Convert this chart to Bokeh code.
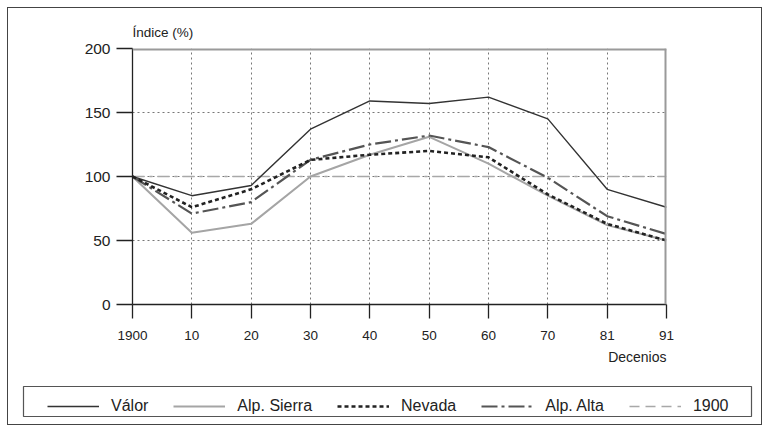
from bokeh.plotting import figure
from bokeh.layouts import column
from bokeh.models import (Range1d, FixedTicker, Legend, LegendItem, Title, Span)
from bokeh.embed import file_html
from bokeh.resources import INLINE

# ---- data ----
decades = ["1900", "10", "20", "30", "40", "50", "60", "70", "81", "91"]
x_pos = [0, 1, 2, 3, 4, 5, 6, 7, 8, 9]
valor = [100, 85, 93, 137, 159, 157, 162, 145, 90, 76]
alp_sierra = [100, 56, 63, 100, 117, 131, 110, 85, 62, 50]
nevada = [100, 76, 90, 113, 117, 120, 115, 86, 63, 50]
alp_alta = [100, 71, 80, 113, 125, 132, 123, 99, 69, 55]
ref_1900 = [100, 100, 100, 100, 100, 100, 100, 100, 100, 100]
y_ticks = [0, 50, 100, 150, 200]
grid_x = [1, 2, 3, 4, 5, 6, 7, 8]
grid_y = [50, 100, 150]
series_names = ["Válor", "Alp. Sierra", "Nevada", "Alp. Alta", "1900"]
series_values = [valor, alp_sierra, nevada, alp_alta, ref_1900]

AX = "#222222"
FONT = "Liberation Sans"
STYLES = {
    "Válor": dict(line_color="#333333", line_width=1.4),
    "Alp. Sierra": dict(line_color="#a5a5a5", line_width=2),
    "Nevada": dict(line_color="#222222", line_width=2.6, line_dash="4 3"),
    "Alp. Alta": dict(line_color="#555555", line_width=2.2, line_dash="16 4 3 4"),
    "1900": dict(line_color="#a8a8a8", line_width=1.6, line_dash="10 6"),
}

W, H1, H2 = 769, 380, 52
p = figure(width=W, height=H1, output_backend="svg", toolbar_location=None,
           x_range=Range1d(0, 9), y_range=Range1d(0, 200),
           min_border_left=132, min_border_right=W - 666,
           min_border_top=48, min_border_bottom=H1 - 304,
           title="Índice (%)")
p.frame_align = False
p.background_fill_color = "white"
p.border_fill_color = None
p.outline_line_color = None

# axes
p.xaxis.ticker = FixedTicker(ticks=x_pos)
p.xaxis.major_label_overrides = {i: s for i, s in zip(x_pos, decades)}
p.yaxis.ticker = FixedTicker(ticks=y_ticks)
for ax in (p.xaxis[0], p.yaxis[0]):
    ax.axis_line_color = AX
    ax.axis_line_width = 1.3
    ax.major_tick_line_color = AX
    ax.major_tick_line_width = 1.3
    ax.major_tick_in = 0
    ax.minor_tick_line_color = None
    ax.major_label_text_color = AX
    ax.major_label_text_font = FONT
p.yaxis.major_tick_out = 16
p.yaxis.major_label_standoff = 6
p.yaxis.major_label_text_font_size = "15.5px"
p.xaxis.major_tick_out = 14
p.xaxis.major_label_standoff = 12
p.xaxis.major_label_text_font_size = "13.5px"

p.title.align = "left"
p.title.text_font = FONT
p.title.text_font_size = "13.5px"
p.title.text_font_style = "normal"
p.title.text_color = AX
p.title.standoff = 17

# thick gray frame edges (top and right)
p.add_layout(Span(location=200, dimension="width", line_color="#9a9a9a", line_width=4))
p.add_layout(Span(location=9, dimension="height", line_color="#9a9a9a", line_width=4))

# grid
p.xgrid.ticker = FixedTicker(ticks=grid_x)
p.ygrid.ticker = FixedTicker(ticks=grid_y)
for g in (p.xgrid[0], p.ygrid[0]):
    g.grid_line_color = "#777777"
    g.grid_line_dash = "2 3"
    g.grid_line_width = 1

# series (drawing order: light first)
p.line(x_pos, ref_1900, line_dash="12 5 3 5", line_color="#a8a8a8", line_width=1.6)
p.line(x_pos, alp_sierra, **STYLES["Alp. Sierra"])
p.line(x_pos, valor, **STYLES["Válor"])
p.line(x_pos, alp_alta, **STYLES["Alp. Alta"])
p.line(x_pos, nevada, **STYLES["Nevada"])

# x-axis caption, right aligned
dec = Title(text="Decenios", align="right", text_font=FONT, text_font_size="14px",
            text_font_style="normal", text_color=AX, standoff=8)
p.add_layout(dec, "below")

# legend strip (own small figure, its frame = legend box)
q = figure(width=W, height=H2, output_backend="svg", toolbar_location=None,
           x_range=Range1d(0, 9), y_range=Range1d(0, 200),
           x_axis_location=None, y_axis_location=None,
           min_border_left=23, min_border_right=W - 751,
           min_border_top=6, min_border_bottom=H2 - 36)
q.frame_align = False
q.grid.visible = False
q.outline_line_color = "#555555"
q.outline_line_width = 1.2
q.background_fill_color = "white"
q.border_fill_color = None
items = []
for name, vals in zip(series_names, series_values):
    r = q.line(x_pos, vals, visible=False, **STYLES[name])
    items.append(LegendItem(label=name, renderers=[r]))
legend = Legend(items=items, orientation="horizontal", location=(24, 0),
                glyph_width=52, glyph_height=20, label_height=20,
                label_standoff=12, spacing=25, padding=5,
                border_line_color=None, background_fill_alpha=0,
                inactive_fill_alpha=0,
                label_text_font=FONT, label_text_font_size="16px",
                label_text_color=AX)
q.add_layout(legend, "center")

layout = column(p, q, spacing=0)
layout.styles = {"outline": "1.5px solid #444444", "outline-offset": "-8px"}

open("out.html", "w").write(file_html(layout, INLINE))
